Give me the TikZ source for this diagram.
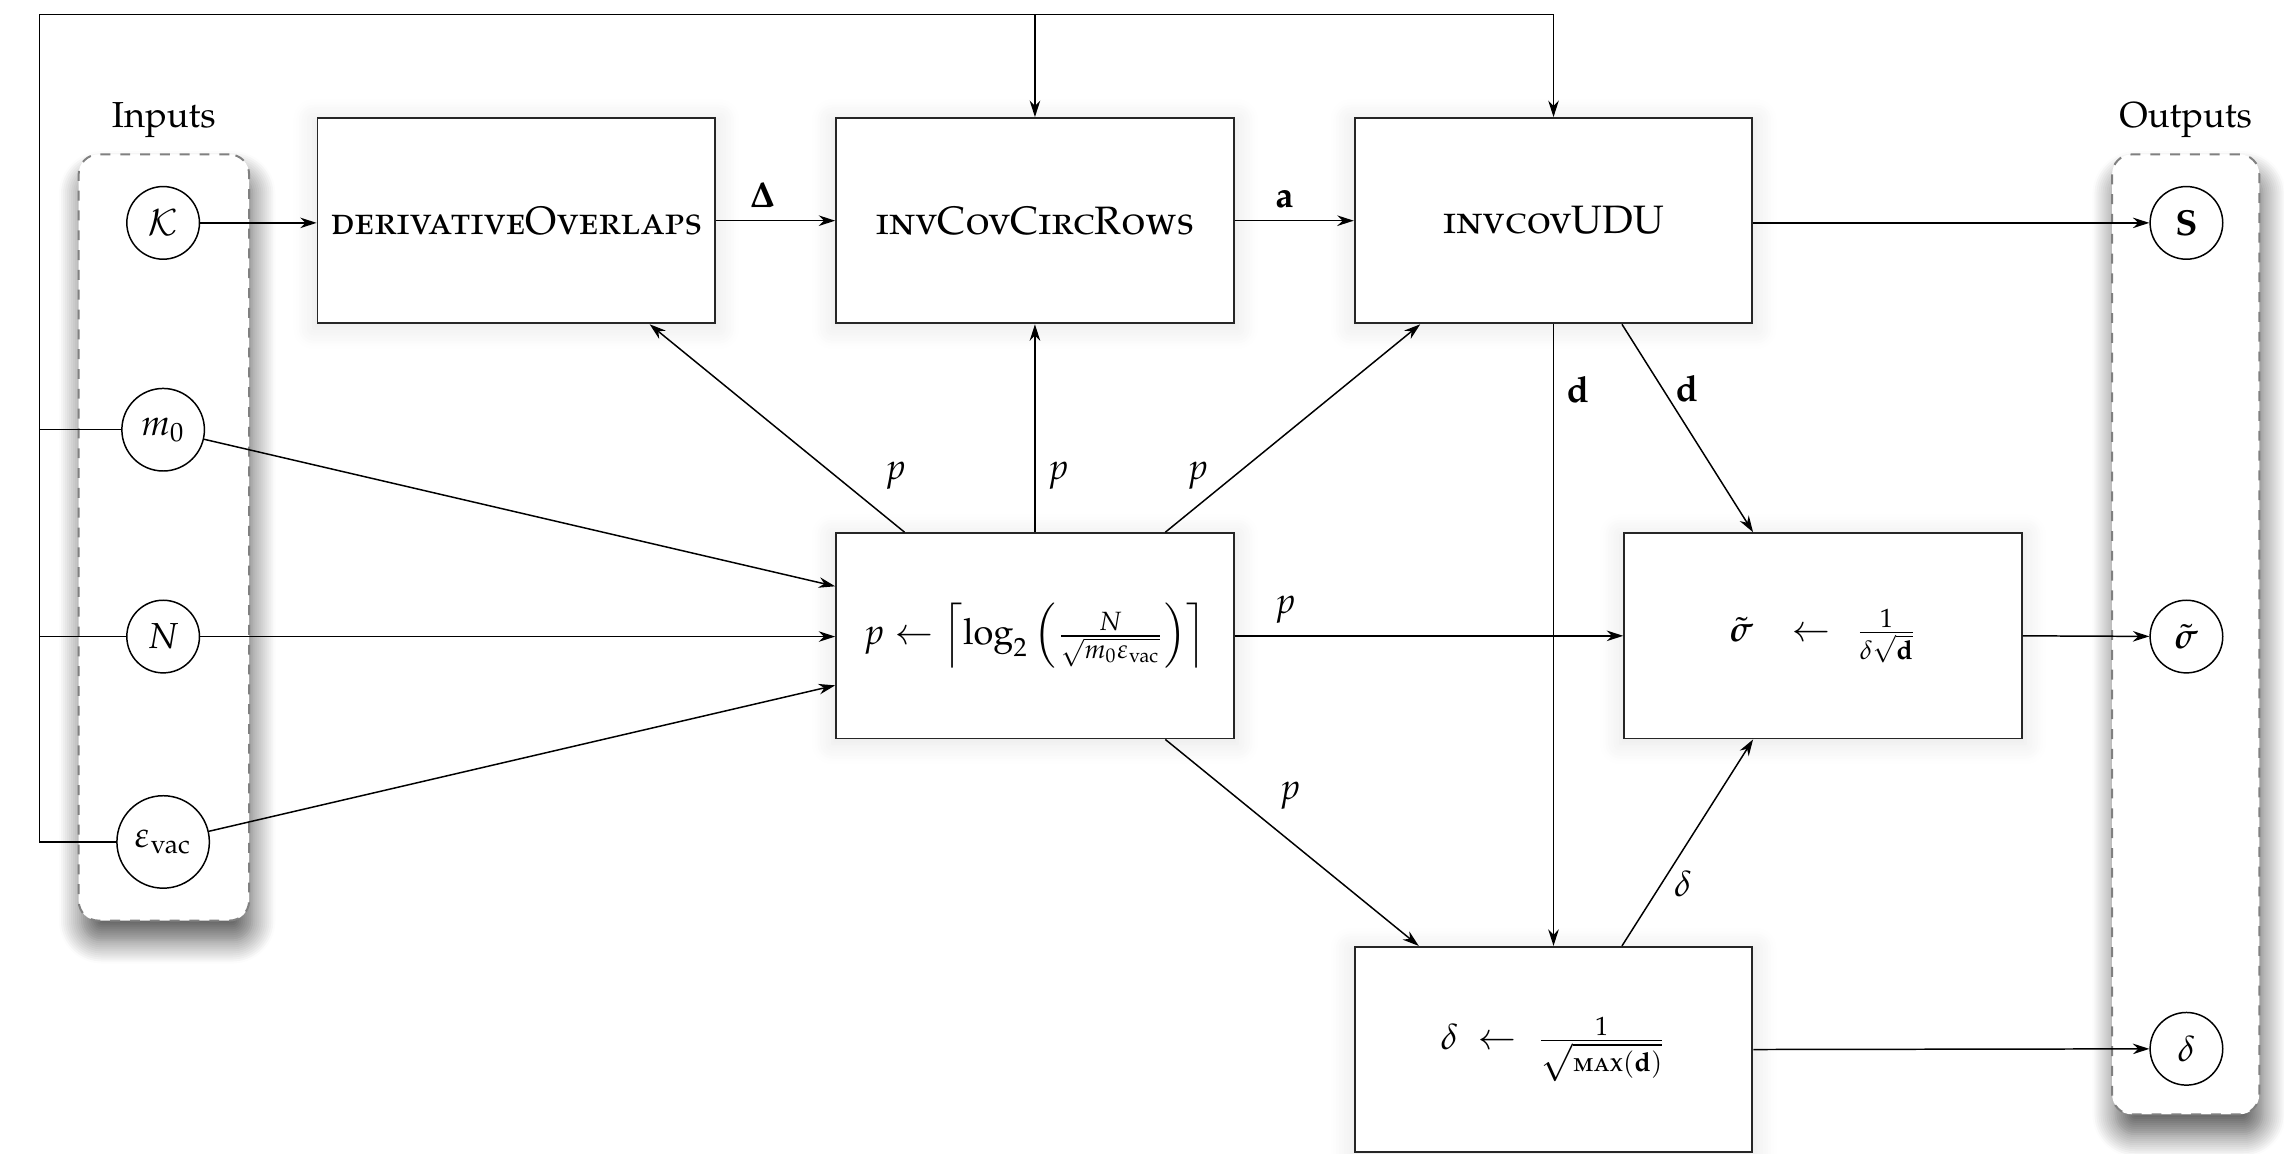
\documentclass[tikz,border=0pt,11pt]{standalone}
\usepackage[T1]{fontenc}
\usepackage{amsmath}
\usepackage[sc]{mathpazo}
\usetikzlibrary{arrows.meta,calc,shapes.geometric,shadows.blur}
\newcommand{\boxsc}[1]{{\fontsize{12pt}{14pt}\selectfont\textsc{#1}}}
\begin{document}
\begin{tikzpicture}[x=0.0155cm,y=-0.0155cm,
  arr/.style={-{Stealth[length=5pt,width=3.2pt]}, line width=0.45pt},
  ln/.style={line width=0.45pt},
  procbox/.style={draw=black!85, line width=0.55pt, fill=white, inner sep=2pt,
    minimum width=273*0.0155cm, minimum height=141*0.0155cm,
    blur shadow={shadow xshift=0pt, shadow yshift=-1pt, shadow opacity=10, shadow blur radius=6pt, shadow blur steps=8, shadow scale=1.02}},
  io/.style={draw, circle, fill=white, minimum size=22pt, inner sep=1.2pt, line width=0.45pt},
  container/.style={draw=black!50, dashed, rounded corners=6pt, fill=white, line width=0.6pt,
    blur shadow={shadow xshift=1pt, shadow yshift=-6pt, shadow opacity=65, shadow blur radius=7pt, shadow blur steps=12}}
]
\useasboundingbox (0,0) rectangle (1568,792);

% containers
\node[container, minimum width=117*0.0155cm, minimum height=526*0.0155cm] (inbox) at (112.5,369) {};
\node[container, minimum width=101*0.0155cm, minimum height=659*0.0155cm] (outbox) at (1500.5,435.5) {};
\node[above=1pt] (inlab) at (inbox.north) {Inputs};
\node[above=1pt] (outlab) at (outbox.north) {Outputs};

% inputs / outputs
\node[io] (K) at (112,153) {$\mathcal{K}$};
\node[io, minimum size=25pt] (m0) at (112,295) {$m_0$};
\node[io] (N) at (112,437) {$N$};
\node[io, minimum size=28pt] (eps) at (112,578) {$\varepsilon_{\text{vac}}$};
\node[io] (S) at (1501,153) {$\mathbf{S}$};
\node[io] (sig) at (1501,437) {$\tilde{\boldsymbol{\sigma}}$};
\node[io] (del) at (1501,720) {$\delta$};

% process boxes
\node[procbox] (D) at (354.5,151.5) {\boxsc{derivativeOverlaps}};
\node[procbox] (C) at (710.5,151.5) {\boxsc{invCovCircRows}};
\node[procbox] (U) at (1066.5,151.5) {\boxsc{invcovUDU}};
\node[procbox] (P) at (710.5,436.5) {$p \leftarrow \left\lceil \log_2\left(\frac{N}{\sqrt{m_0\varepsilon_{\text{vac}}}}\right)\right\rceil$};
\node[procbox] (Sg) at (1251.5,436.5) {$\tilde{\boldsymbol{\sigma}}\hspace{8.5pt}\leftarrow\hspace{4.5pt}\frac{1}{\delta\sqrt{\mathbf{d}}}$};
\node[procbox] (Dl) at (1066.5,720.5) {$\delta \;\leftarrow\; \frac{1}{\sqrt{\text{\textsc{max}}(\mathbf{d})}}$};

% feedback lines
\coordinate (tl) at (27,10);
\draw[ln] (m0.west) -- (m0.west -| tl);
\draw[ln] (N.west) -- (N.west -| tl);
\draw[arr] (eps.west) -| (tl) -| (U.north);
\draw[arr] (C.north |- tl) -- (C.north);

% main chain
\draw[arr] (K.east) -- (K.east -| D.west);
\draw[arr] (D) -- node[above, xshift=-4pt]{$\boldsymbol{\Delta}$} (C);
\draw[arr] (C) -- node[above, xshift=-3pt]{$\mathbf{a}$} (U);
\draw[arr] (U.east |- S) -- (S);

% into p box
\draw[arr] (m0) -- ($(P.west)+(0,-34)$);
\draw[arr] (N) -- (N -| P.west);
\draw[arr] (eps) -- ($(P.west)+(0,34)$);

% out of p box
\draw[arr] ($(P.north)+(-89.5,0)$) -- node[pos=0.27, right=11pt]{$p$} ($(D.south)+(91.5,0)$);
\draw[arr] (P.north) -- node[pos=0.27, right]{$p$} (C.south);
\draw[arr] ($(P.north)+(89.5,0)$) -- node[pos=0.27, left=4pt]{$p$} ($(U.south)+(-91.5,0)$);
\draw[arr] (P.east) -- node[pos=0.13, above]{$p$} (Sg.west);
\draw[arr] ($(P.south)+(89.5,0)$) -- node[pos=0.4, above right]{$p$} ($(Dl.north)+(-92.5,0)$);

% d and delta
\draw[arr] (U.south) -- node[pos=0.105, right]{$\mathbf{d}$} (Dl.north);
\draw[arr] ($(U.south)+(47,0)$) -- node[pos=0.31, right]{$\mathbf{d}$} ($(Sg.north)+(-48,0)$);
\draw[arr] ($(Dl.north)+(47,0)$) -- node[pos=0.3, right]{$\delta$} ($(Sg.south)+(-48,0)$);

% to outputs
\draw[arr] (Sg.east) -- (sig);
\draw[arr] (Dl.east) -- (del);
\end{tikzpicture}
\end{document}
